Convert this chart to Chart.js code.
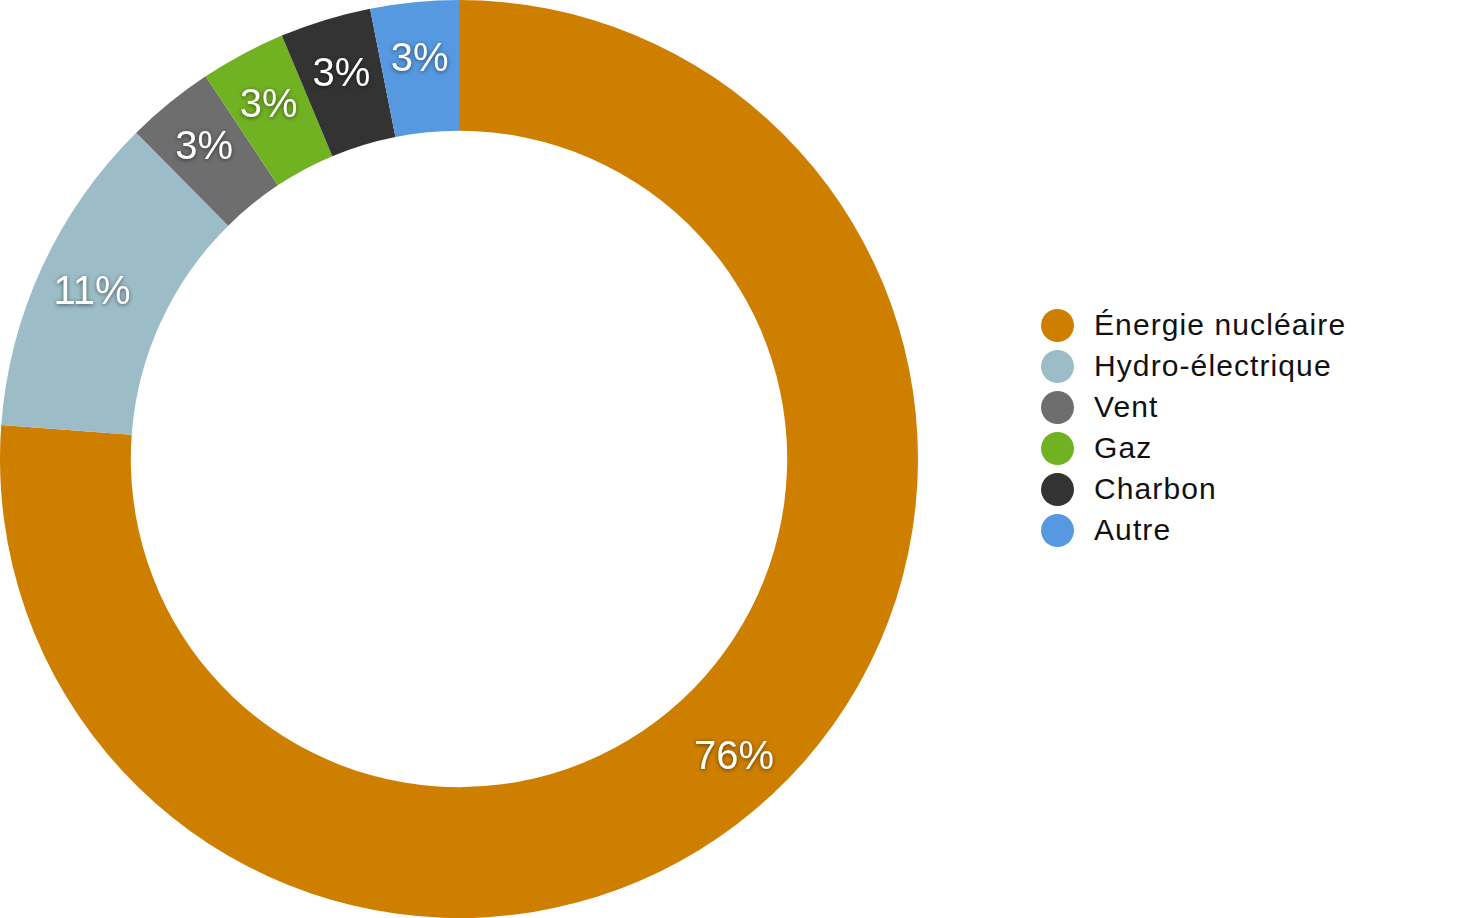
<!DOCTYPE html>
<html>
<head>
<meta charset="utf-8">
<script src="https://cdn.jsdelivr.net/npm/chart.js@4"></script>
<style>
  html, body { margin: 0; padding: 0; background: #fff; }
  #wrap { position: relative; width: 1462px; height: 918px; }
  #chartBox { position: absolute; left: 0; top: 0; width: 918px; height: 918px; }
  #legend { position: absolute; left: 1041px; top: 304px; font-family: "Liberation Sans", Arial, sans-serif; font-size: 30px; letter-spacing: 1.1px; color: #111; }
  .item { height: 41px; line-height: 41px; white-space: nowrap; }
  .dot { display: inline-block; width: 33px; height: 33px; border-radius: 50%; vertical-align: middle; margin-right: 20px; position: relative; top: -2px; }
</style>
</head>
<body>
<div id="wrap">
  <div id="chartBox"><canvas id="energyChart" width="918" height="918"></canvas></div>
  <div id="legend"></div>
</div>
<script>
// Données
const categories = ['Énergie nucléaire', 'Hydro-électrique', 'Vent', 'Gaz', 'Charbon', 'Autre'];
const values = [76.1, 11.4, 3.1, 3.0, 3.2, 3.1];
const colors = ['#CE7F00', '#9CBCC8', '#6E6E6E', '#71B223', '#333333', '#5699E1'];

// Étiquettes de pourcentage dessinées sur chaque segment
const pctLabels = {
    id: 'pctLabels',
    afterDatasetsDraw(chart) {
        const ctx = chart.ctx;
        const meta = chart.getDatasetMeta(0);
        const total = values.reduce((a, b) => a + b, 0);
        ctx.save();
        ctx.font = '300 40px "Liberation Sans", Arial, sans-serif';
        ctx.fillStyle = '#fff';
        ctx.textAlign = 'center';
        ctx.textBaseline = 'middle';
        ctx.shadowColor = 'rgba(0,0,0,0.55)';
        ctx.shadowBlur = 4;
        ctx.shadowOffsetY = 1;
        meta.data.forEach((arc, i) => {
            const p = arc.getProps(['x', 'y', 'startAngle', 'endAngle', 'innerRadius', 'outerRadius'], true);
            const mid = (p.startAngle + p.endAngle) / 2;
            const r = p.innerRadius + 0.58 * (p.outerRadius - p.innerRadius);
            const txt = Math.round(values[i] / total * 100) + '%';
            ctx.fillText(txt, p.x + Math.cos(mid) * r, p.y + Math.sin(mid) * r + 3);
        });
        ctx.restore();
    }
};

const chart = new Chart(document.getElementById('energyChart').getContext('2d'), {
    type: 'doughnut',
    data: {
        labels: categories,
        datasets: [{
            data: values,
            backgroundColor: colors,
            borderWidth: 0
        }]
    },
    options: {
        responsive: false,
        animation: false,
        cutout: '71.5%',
        plugins: {
            legend: { display: false },
            tooltip: { enabled: false }
        }
    },
    plugins: [pctLabels]
});

// Légende construite à partir des tableaux
const legend = document.getElementById('legend');
categories.forEach((name, i) => {
    const row = document.createElement('div');
    row.className = 'item';
    const dot = document.createElement('span');
    dot.className = 'dot';
    dot.style.background = colors[i];
    row.appendChild(dot);
    row.appendChild(document.createTextNode(name));
    legend.appendChild(row);
});
</script>
</body>
</html>
